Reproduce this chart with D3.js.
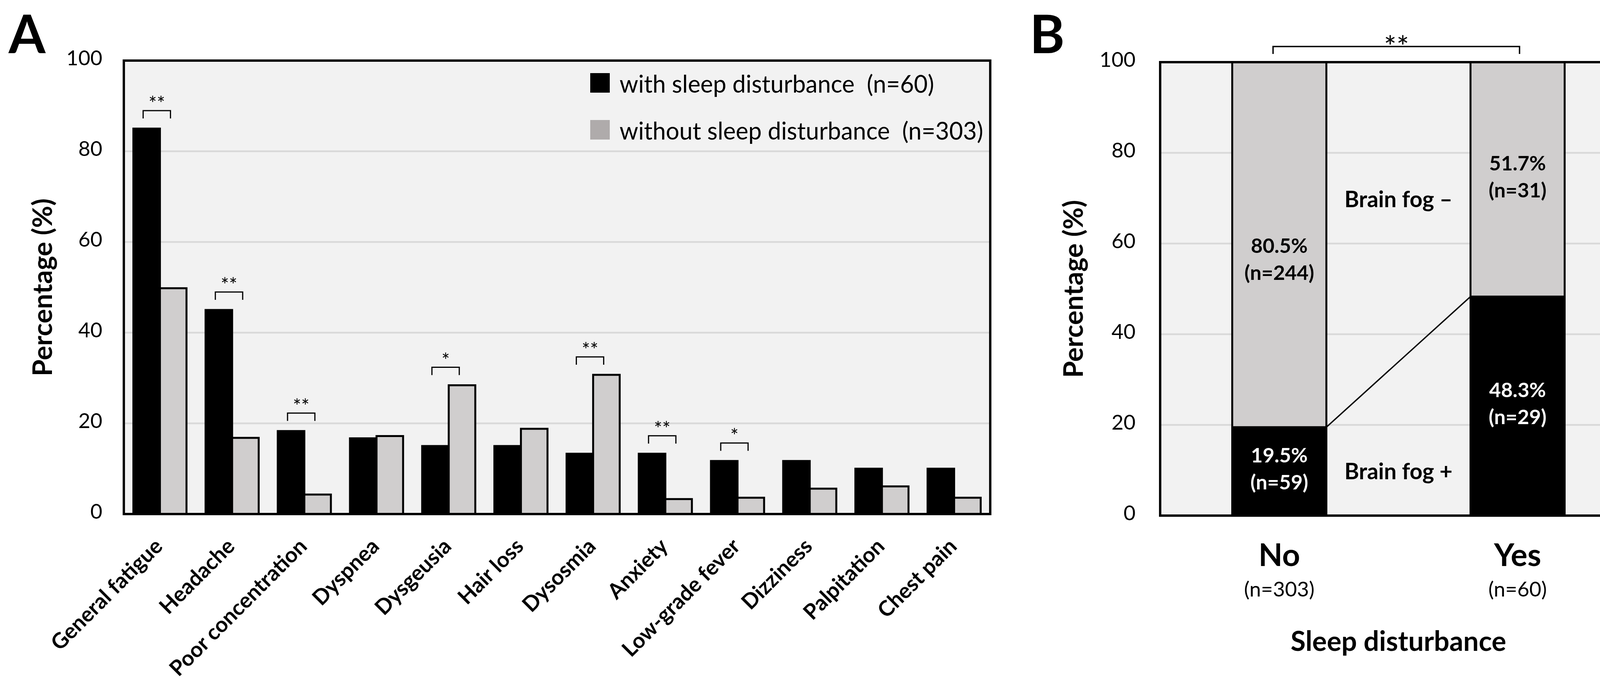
<!DOCTYPE html>
<html>
<head>
<meta charset="utf-8">
<script src="https://cdn.jsdelivr.net/npm/d3@7"></script>
<style>
  body { margin: 0; background: #fff; }
  svg { display: block; }
  text { font-family: Lato, sans-serif; fill: #000; }
</style>
</head>
<body>
<div class="canvas"></div>
<script>
// ---- data, panel A ----
const categories = ['General fatigue', 'Headache', 'Poor concentration', 'Dyspnea', 'Dysgeusia',
  'Hair loss', 'Dysosmia', 'Anxiety', 'Low-grade fever', 'Dizziness', 'Palpitation', 'Chest pain'];
const withSleep = [85.0, 45.0, 18.3, 16.7, 15.0, 15.0, 13.3, 13.3, 11.7, 11.7, 10.0, 10.0];
const withoutSleep = [49.8, 16.8, 4.3, 17.2, 28.4, 18.8, 30.7, 3.3, 3.6, 5.6, 6.1, 3.6];
const sigA = ['**', '**', '**', '', '*', '', '**', '**', '*', '', '', ''];
const seriesNames = ['with sleep disturbance  (n=60)', 'without sleep disturbance  (n=303)'];
const yTicks = [0, 20, 40, 60, 80, 100];

// ---- data, panel B ----
const groups = ['No', 'Yes'];
const groupN = ['(n=303)', '(n=60)'];
const fogPos = [19.5, 48.3];
const fogNeg = [80.5, 51.7];
const fogPosN = [59, 29];
const fogNegN = [244, 31];
const sigB = '**';

const BLACK = '#000000', GREY = '#d0cece', LEGGREY = '#afabab', BG = '#f2f2f2', GRID = '#d9d9d9';

const svg = d3.select('.canvas')
  .append('svg')
    .attr('width', 4221)
    .attr('height', 1760);

// ================= PANEL A =================
const A = {left: 317, right: 2535, top: 155, bottom: 1315};
const yA = d3.scaleLinear().domain([0, 100]).range([A.bottom, A.top]);
const xA = d3.scaleBand().domain(categories).range([A.left, A.right]);
const barW = 68;
const xSub = d3.scaleBand().domain([0, 1]).range([0, barW * 2]);

const gA = svg.append('g');

gA.append('rect')
  .attr('x', A.left).attr('y', A.top)
  .attr('width', A.right - A.left).attr('height', A.bottom - A.top)
  .attr('fill', BG);

gA.selectAll('line.grid')
  .data(yTicks.slice(1, -1))
  .enter().append('line')
    .attr('class', 'grid')
    .attr('x1', A.left).attr('x2', A.right)
    .attr('y1', d => yA(d)).attr('y2', d => yA(d))
    .attr('stroke', GRID).attr('stroke-width', 4.5);

// bars
const rowsA = categories.map((c, i) => ({cat: c, vals: [withSleep[i], withoutSleep[i]], sig: sigA[i]}));
const groupsA = gA.selectAll('g.cat')
  .data(rowsA)
  .enter().append('g')
    .attr('class', 'cat')
    .attr('transform', d => `translate(${xA(d.cat) + xA.bandwidth() / 2 - barW}, 0)`);

groupsA.selectAll('rect')
  .data(d => d.vals)
  .enter().append('rect')
    .attr('x', (d, i) => xSub(i))
    .attr('width', barW)
    .attr('y', d => yA(d))
    .attr('height', d => yA(0) - yA(d))
    .attr('fill', (d, i) => i === 0 ? BLACK : GREY)
    .attr('stroke', BLACK)
    .attr('stroke-width', 5);

// significance brackets
const sigRows = rowsA.filter(d => d.sig);
const brk = gA.selectAll('g.sig')
  .data(sigRows)
  .enter().append('g')
    .attr('class', 'sig')
    .attr('transform', d => {
      const cx = xA(d.cat) + xA.bandwidth() / 2 - 8;
      const top = yA(d3.max(d.vals)) - 46;
      return `translate(${cx}, ${top})`;
    });
brk.append('path')
  .attr('d', 'M-35,20V0H35V20')
  .attr('fill', 'none').attr('stroke', BLACK).attr('stroke-width', 3);
brk.append('text')
  .attr('text-anchor', 'middle')
  .attr('y', 0)
  .style('font-size', '50px')
  .text(d => d.sig);

// frame
gA.append('rect')
  .attr('x', A.left).attr('y', A.top)
  .attr('width', A.right - A.left).attr('height', A.bottom - A.top)
  .attr('fill', 'none').attr('stroke', BLACK).attr('stroke-width', 6);

// axes
const yAxisA = gA.append('g')
  .attr('transform', `translate(${A.left}, 0)`)
  .call(d3.axisLeft(yA).tickValues(yTicks).tickSize(0).tickPadding(55));
yAxisA.select('.domain').remove();
yAxisA.selectAll('text')
  .attr('dy', '0.22em')
  .style('font-size', '53px')
  .style('font-family', 'Lato, sans-serif')
  .attr('fill', BLACK);

const xAxisA = gA.append('g')
  .attr('transform', `translate(0, ${A.bottom})`)
  .call(d3.axisBottom(xA).tickSize(0));
xAxisA.select('.domain').remove();
xAxisA.selectAll('text')
  .attr('y', 0).attr('dy', 0)
  .attr('text-anchor', 'end')
  .attr('transform', 'translate(10, 86) rotate(-45)')
  .style('font-size', '55px')
  .style('font-weight', 'bold')
  .style('font-family', 'Lato, sans-serif')
  .attr('fill', BLACK);

// y title
gA.append('text')
  .attr('transform', `translate(133, ${(A.top + A.bottom) / 2}) rotate(-90)`)
  .attr('text-anchor', 'middle')
  .style('font-size', '69px').style('font-weight', 'bold')
  .text('Percentage (%)');

// legend
const legA = gA.append('g').attr('transform', 'translate(1511, 187)');
const legItems = legA.selectAll('g')
  .data(seriesNames)
  .enter().append('g')
    .attr('transform', (d, i) => `translate(0, ${i * 120})`);
legItems.append('rect')
  .attr('width', 50).attr('height', 50)
  .attr('fill', (d, i) => i === 0 ? BLACK : LEGGREY);
legItems.append('text')
  .attr('x', 75).attr('y', 50)
  .style('font-size', '61px')
  .style('white-space', 'pre')
  .text(d => d);

// panel letter
svg.append('text')
  .attr('x', 22).attr('y', 136)
  .style('font-size', '136px').style('font-weight', 'bold')
  .text('A');

// ================= PANEL B =================
const B = {left: 2970, right: 4190, top: 159, bottom: 1319};
const yB = d3.scaleLinear().domain([0, 100]).range([B.bottom, B.top]);
const xB = d3.scaleBand().domain(groups).range([B.left, B.right]);
const bW = 241;
const bx = g => xB(g) + (xB.bandwidth() - bW) / 2;

const gB = svg.append('g');

gB.append('rect')
  .attr('x', B.left).attr('y', B.top)
  .attr('width', B.right - B.left).attr('height', B.bottom - B.top)
  .attr('fill', BG);

gB.selectAll('line.grid')
  .data(yTicks.slice(1, -1))
  .enter().append('line')
    .attr('class', 'grid')
    .attr('x1', B.left).attr('x2', B.right)
    .attr('y1', d => yB(d)).attr('y2', d => yB(d))
    .attr('stroke', GRID).attr('stroke-width', 4.5);

// stacked segments
const segs = [];
groups.forEach((g, i) => {
  segs.push({g, lo: 0, hi: fogPos[i], fill: BLACK, txt: '#fff', pct: fogPos[i], n: fogPosN[i], nudge: 0});
  segs.push({g, lo: fogPos[i], hi: 100, fill: GREY, txt: '#000', pct: fogNeg[i], n: fogNegN[i], nudge: i === 0 ? 44 : 0});
});

gB.selectAll('rect.seg')
  .data(segs)
  .enter().append('rect')
    .attr('class', 'seg')
    .attr('x', d => bx(d.g))
    .attr('width', bW)
    .attr('y', d => yB(d.hi))
    .attr('height', d => yB(d.lo) - yB(d.hi))
    .attr('fill', d => d.fill)
    .attr('stroke', BLACK)
    .attr('stroke-width', 5);

// series line
gB.append('line')
  .attr('x1', bx(groups[0]) + bW).attr('y1', yB(fogPos[0]))
  .attr('x2', bx(groups[1])).attr('y2', yB(fogPos[1]))
  .attr('stroke', BLACK).attr('stroke-width', 3.5);

// segment labels
const lab = gB.selectAll('g.lab')
  .data(segs)
  .enter().append('g')
    .attr('class', 'lab')
    .attr('transform', d => `translate(${bx(d.g) + bW / 2}, ${yB((d.lo + d.hi) / 2) + d.nudge})`);
lab.append('text')
  .attr('text-anchor', 'middle').attr('y', -23)
  .style('font-size', '52px').style('font-weight', 'bold')
  .style('fill', d => d.txt)
  .text(d => d.pct.toFixed(1) + '%');
lab.append('text')
  .attr('text-anchor', 'middle').attr('y', 46)
  .style('font-size', '52px').style('font-weight', 'bold')
  .style('fill', d => d.txt)
  .text(d => `(n=${d.n})`);

// brain fog annotations in the gap
const gapX = (bx(groups[0]) + bW + bx(groups[1])) / 2;
gB.append('text')
  .attr('x', gapX).attr('y', yB(68))
  .attr('text-anchor', 'middle')
  .style('font-size', '57px').style('font-weight', 'bold')
  .text('Brain fog \u2013');
gB.append('text')
  .attr('x', gapX).attr('y', yB(8))
  .attr('text-anchor', 'middle')
  .style('font-size', '57px').style('font-weight', 'bold')
  .text('Brain fog +');

// frame
gB.append('rect')
  .attr('x', B.left).attr('y', B.top)
  .attr('width', B.right - B.left).attr('height', B.bottom - B.top)
  .attr('fill', 'none').attr('stroke', BLACK).attr('stroke-width', 6);

// axes
const yAxisB = gB.append('g')
  .attr('transform', `translate(${B.left}, 0)`)
  .call(d3.axisLeft(yB).tickValues(yTicks).tickSize(0).tickPadding(63));
yAxisB.select('.domain').remove();
yAxisB.selectAll('text')
  .attr('dy', '0.22em')
  .style('font-size', '53px')
  .style('font-family', 'Lato, sans-serif')
  .attr('fill', BLACK);

const xAxisB = gB.append('g')
  .attr('transform', `translate(0, ${B.bottom})`)
  .call(d3.axisBottom(xB).tickSize(0));
xAxisB.select('.domain').remove();
xAxisB.selectAll('text')
  .attr('y', 129).attr('dy', 0)
  .style('font-size', '80px').style('font-weight', 'bold')
  .style('font-family', 'Lato, sans-serif')
  .attr('fill', BLACK);
xAxisB.selectAll('.tick')
  .append('text')
    .attr('y', 207)
    .attr('text-anchor', 'middle')
    .style('font-size', '53px')
    .attr('fill', BLACK)
    .text((d, i) => groupN[i]);

gB.append('text')
  .attr('x', (B.left + B.right) / 2).attr('y', 1665)
  .attr('text-anchor', 'middle')
  .style('font-size', '70px').style('font-weight', 'bold')
  .text('Sleep disturbance');

gB.append('text')
  .attr('transform', `translate(2772, ${(B.top + B.bottom) / 2}) rotate(-90)`)
  .attr('text-anchor', 'middle')
  .style('font-size', '69px').style('font-weight', 'bold')
  .text('Percentage (%)');

// overall significance bracket
const c0 = xB(groups[0]) + xB.bandwidth() / 2, c1 = xB(groups[1]) + xB.bandwidth() / 2;
gB.append('path')
  .attr('d', `M${c0 - 16},${B.top - 21}V${B.top - 40}H${c1 + 5}V${B.top - 21}`)
  .attr('fill', 'none').attr('stroke', BLACK).attr('stroke-width', 3.5);
gB.append('text')
  .attr('x', (c0 + c1) / 2 - 5).attr('y', B.top - 12)
  .attr('text-anchor', 'middle')
  .style('font-size', '76px')
  .text(sigB);

svg.append('text')
  .attr('x', 2636).attr('y', 136)
  .style('font-size', '136px').style('font-weight', 'bold')
  .text('B');
</script>
</body>
</html>
